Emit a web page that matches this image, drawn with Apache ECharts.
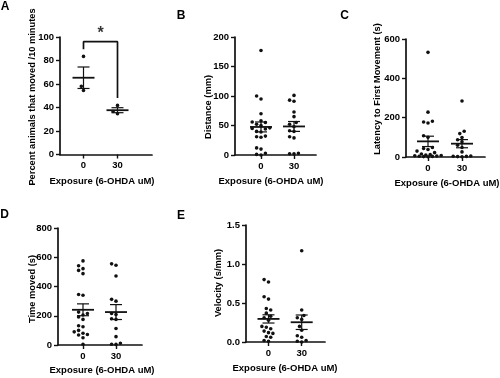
<!DOCTYPE html>
<html><head><meta charset="utf-8">
<script src="https://cdn.jsdelivr.net/npm/echarts@6/dist/echarts.min.js"></script>
<style>html,body{margin:0;padding:0;background:#fff}#c{width:500px;height:378px}</style>
</head><body><div id="c"></div>
<script>
// ---------- data ----------
const groupLabels = ['0', '30'];
const xTitle = 'Exposure (6-OHDA uM)';

// A: percent animals that moved
const pctMoved0 = [83.5, 58, 54.5];
const pctMoved30 = [41.8, 36.6, 34.7];
const pctTicks = [0, 20, 40, 60, 80, 100];
const sigBracket = [[0, 89.5], [0, 96], [1, 96], [1, 48]];
const sigLabel = '*';

// B: distance (mm)
const distance0 = [177, 100, 95, 70, 58, 56, 55, 52, 50, 46, 45, 44, 40, 39, 32, 31, 30, 12, 10, 3, 1, 0];
const distance30 = [101, 93, 91, 73, 65, 55, 52, 48, 41, 40, 31, 29, 3, 2, 2];
const distanceTicks = [0, 50, 100, 150, 200];

// C: latency to first movement (s)
const latency0 = [532, 228, 182, 178, 173, 108, 100, 48, 43, 38, 30, 22, 15, 12, 10, 8, 6, 5, 4, 3, 2, 1];
const latency30 = [285, 131, 119, 99, 88, 77, 60, 48, 26, 5, 4, 3, 2, 1];
const latencyTicks = [0, 200, 400, 600];

// D: time moved (s)
const timeMoved0 = [575, 542, 522, 510, 488, 345, 340, 225, 215, 205, 192, 175, 132, 125, 100, 90, 80, 72, 68, 50, 5];
const timeMoved30 = [555, 545, 472, 312, 300, 215, 208, 180, 175, 113, 57, 12, 5, 4];
const timeTicks = [0, 200, 400, 600, 800];

// E: velocity (s/mm)
const velocity0 = [0.8, 0.77, 0.58, 0.55, 0.43, 0.41, 0.37, 0.33, 0.31, 0.28, 0.2, 0.19, 0.17, 0.14, 0.12, 0.11, 0.07, 0.06, 0.02, 0.01];
const velocity30 = [1.17, 0.41, 0.34, 0.31, 0.29, 0.2, 0.15, 0.08, 0.06, 0.02, 0.01, 0.0];
const velocityTicks = [0, 0.5, 1.0, 1.5];

// ---------- layout ----------
const FONT = '"Liberation Sans", Arial, sans-serif';
const INK = '#111';
const panels = [
  {letter: 'A', yTitle: 'Percent animals that moved /10 minutes', groups: [pctMoved0, pctMoved30], ticks: pctTicks, dec: 0,
   axisX: 60, zeroX: 83.5, oneX: 117.5, endX: 152, top: 37, bottom: 154.5, ytx: 32, yty: 97, xtx: 102, xty: 181, lx: 5, ly: 7},
  {letter: 'B', yTitle: 'Distance (mm)', groups: [distance0, distance30], ticks: distanceTicks, dec: 0,
   axisX: 235, zeroX: 261, oneX: 294, endX: 316, top: 37, bottom: 155, ytx: 208.5, yty: 107, xtx: 271, xty: 181, lx: 181, ly: 15.5},
  {letter: 'C', yTitle: 'Latency to First Movement (s)', groups: [latency0, latency30], ticks: latencyTicks, dec: 0,
   axisX: 406, zeroX: 428, oneX: 462, endX: 485, top: 39, bottom: 157, ytx: 377, yty: 89, xtx: 447, xty: 183, lx: 344.5, ly: 16},
  {letter: 'D', yTitle: 'Time moved (s)', groups: [timeMoved0, timeMoved30], ticks: timeTicks, dec: 0,
   axisX: 58, zeroX: 83, oneX: 116, endX: 142, top: 228, bottom: 345, ytx: 32, yty: 289, xtx: 102, xty: 370, lx: 4.5, ly: 215},
  {letter: 'E', yTitle: 'Velocity (s/mm)', groups: [velocity0, velocity30], ticks: velocityTicks, dec: 1,
   axisX: 246, zeroX: 268.5, oneX: 301.7, endX: 325, top: 225, bottom: 342, ytx: 218, yty: 283, xtx: 285, xty: 368, lx: 181, ly: 216}
];

// ---------- helpers ----------
function meanSem(arr) {
  const n = arr.length, m = arr.reduce((a, b) => a + b, 0) / n;
  const sd = Math.sqrt(arr.reduce((a, b) => a + (b - m) * (b - m), 0) / (n - 1));
  return [m, sd / Math.sqrt(n)];
}
// deterministic bee-swarm in pixel space, limited half-width
function swarm(pts, dmin, maxOff) {
  const order = pts.map((p, i) => i).sort((a, b) => pts[b][1] - pts[a][1]);
  const placed = [], out = new Array(pts.length);
  const step = 2.2;
  for (const i of order) {
    const x0 = pts[i][0], y = pts[i][1];
    let chosen = null, best = x0, bestD = -1;
    for (let k = 0; k < 40; k++) {
      const off = k === 0 ? 0 : (k % 2 ? -1 : 1) * Math.ceil(k / 2) * step;
      if (Math.abs(off) > maxOff) break;
      const x = x0 + off;
      let dm = Infinity;
      placed.forEach(p => { const d = Math.hypot(p[0] - x, p[1] - y); if (d < dm) dm = d; });
      if (dm >= dmin) { chosen = x; break; }
      if (dm > bestD) { bestD = dm; best = x; }
    }
    if (chosen === null) chosen = best;
    placed.push([chosen, y]);
    out[i] = [chosen, y];
  }
  return out;
}
function dotRenderer(groups) {
  return function (params, api) {
    const g = api.value(0), k = api.value(2);
    const ctx = params.context;
    if (!ctx.sw) ctx.sw = {};
    if (!ctx.sw[g]) ctx.sw[g] = swarm(groups[g].map(v => api.coord([g, v])), 4.2, 14);
    const p = ctx.sw[g][k];
    return {type: 'circle', shape: {cx: p[0], cy: p[1], r: 1.8}, style: {fill: INK}};
  };
}
function errRender(params, api) {
  const g = api.value(0), m = api.value(1), s = api.value(2);
  const c = api.coord([g, m]), lo = api.coord([g, m - s]), hi = api.coord([g, m + s]);
  const st = {stroke: INK, lineWidth: 1.2};
  return {type: 'group', children: [
    {type: 'line', shape: {x1: c[0] - 11, y1: c[1], x2: c[0] + 11, y2: c[1]}, style: {stroke: INK, lineWidth: 1.8}},
    {type: 'line', shape: {x1: c[0], y1: lo[1], x2: c[0], y2: hi[1]}, style: st},
    {type: 'line', shape: {x1: c[0] - 6, y1: lo[1], x2: c[0] + 6, y2: lo[1]}, style: st},
    {type: 'line', shape: {x1: c[0] - 6, y1: hi[1], x2: c[0] + 6, y2: hi[1]}, style: st}
  ]};
}

// ---------- build option ----------
const grid = [], xAxis = [], yAxis = [], series = [], graphic = [];
const textBase = {fontFamily: FONT, fontWeight: 'bold', fill: '#000'};
panels.forEach((p, i) => {
  const unit = p.oneX - p.zeroX;
  grid.push({left: p.axisX, width: p.endX - p.axisX, top: p.top, height: p.bottom - p.top, containLabel: false});
  xAxis.push({
    type: 'value', gridIndex: i,
    min: -(p.zeroX - p.axisX) / unit, max: 1 + (p.endX - p.oneX) / unit,
    splitLine: {show: false},
    axisLine: {show: true, onZero: false, lineStyle: {color: INK, width: 1.7}},
    axisTick: {show: true, customValues: [0, 1], length: 4, lineStyle: {color: INK, width: 1.4}},
    axisLabel: {show: true, customValues: [0, 1], formatter: v => groupLabels[Math.round(v)], margin: 6,
      fontFamily: FONT, fontWeight: 'bold', fontSize: 9.5, color: '#000'}
  });
  const t = p.ticks;
  yAxis.push({
    type: 'value', gridIndex: i, min: t[0], max: t[t.length - 1], interval: t[1] - t[0],
    splitLine: {show: false},
    axisLine: {show: true, onZero: false, lineStyle: {color: INK, width: 1.7}},
    axisTick: {show: true, length: 4, lineStyle: {color: INK, width: 1.4}},
    axisLabel: {margin: 6, formatter: v => v.toFixed(p.dec), fontFamily: FONT, fontWeight: 'bold', fontSize: 9.5, color: '#000'}
  });
  const dots = [];
  p.groups.forEach((arr, g) => arr.forEach((v, k) => dots.push([g, v, k])));
  series.push({type: 'custom', xAxisIndex: i, yAxisIndex: i, clip: false, silent: true,
    renderItem: dotRenderer(p.groups), data: dots, z: 3});
  series.push({type: 'custom', xAxisIndex: i, yAxisIndex: i, clip: false, silent: true,
    renderItem: errRender, data: p.groups.map((arr, g) => [g].concat(meanSem(arr))), z: 4});
  graphic.push({type: 'text', x: p.lx, y: p.ly,
    style: Object.assign({}, textBase, {text: p.letter, fontSize: 12, align: 'center', verticalAlign: 'middle'})});
  graphic.push({type: 'text', x: p.ytx, y: p.yty, rotation: Math.PI / 2,
    style: Object.assign({}, textBase, {text: p.yTitle, fontSize: 9.3, align: 'center', verticalAlign: 'middle'})});
  graphic.push({type: 'text', x: p.xtx, y: p.xty,
    style: Object.assign({}, textBase, {text: xTitle, fontSize: 9.5, align: 'center', verticalAlign: 'middle'})});
});
// significance bracket in panel A
series.push({type: 'line', xAxisIndex: 0, yAxisIndex: 0, data: sigBracket, symbol: 'none', silent: true,
  lineStyle: {color: INK, width: 1.7}, z: 5});
series.push({type: 'scatter', xAxisIndex: 0, yAxisIndex: 0, symbolSize: 0, silent: true,
  data: [[(sigBracket[1][0] + sigBracket[2][0]) / 2, sigBracket[1][1]]],
  label: {show: true, position: 'top', distance: 0, formatter: sigLabel, fontFamily: FONT, fontWeight: 'bold', fontSize: 16, color: '#000'}});

const chart = echarts.init(document.getElementById('c'), null, {renderer: 'canvas'});
chart.setOption({animation: false, backgroundColor: '#fff', grid, xAxis, yAxis, series, graphic});
</script></body></html>
